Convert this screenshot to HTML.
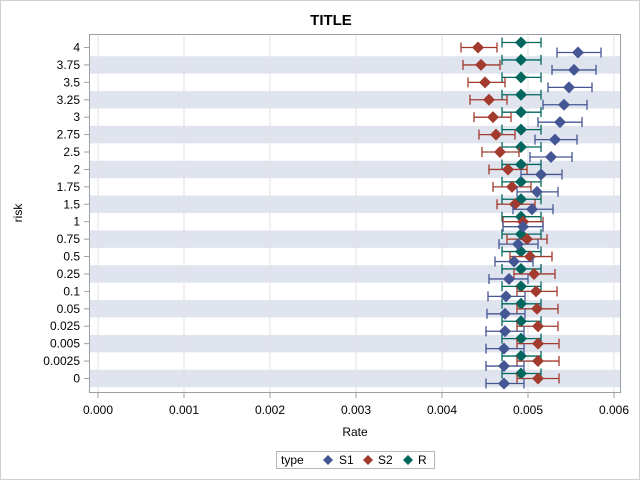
<!DOCTYPE html>
<html><head><style>body{margin:0;background:#fff}svg{display:block}text{font-family:"Liberation Sans",sans-serif}</style></head>
<body>
<svg width="640" height="480" viewBox="0 0 640 480" xmlns="http://www.w3.org/2000/svg">
<rect x="0.5" y="0.5" width="639" height="479" fill="#fff" stroke="#d0d0d0"/>
<text x="331" y="25" font-size="15" font-weight="bold" text-anchor="middle">TITLE</text>
<g id="bands" fill="#dfe4ee"></g>
<g id="grid" stroke="#e2e2e2"></g>
<rect x="89.5" y="34.5" width="531" height="358" fill="none" stroke="#9aa0a6"/>
<g id="ytk" stroke="#9aa0a6"></g>
<g id="ylab" font-size="12" text-anchor="end"></g>
<g id="xax" font-size="12" text-anchor="middle"></g>
<text x="22" y="213" font-size="12" text-anchor="middle" transform="rotate(-90 22 213)">risk</text>
<text x="355" y="436" font-size="12" text-anchor="middle">Rate</text>
<g id="data" stroke-width="1.3"></g>
<rect x="276.5" y="451.5" width="158" height="17" fill="#fff" stroke="#b8b8b8"/>
<text x="281" y="464" font-size="12">type</text>
<path d="M328,455 L333,460 L328,465 L323,460Z" fill="#445694"/><text x="339" y="464" font-size="12">S1</text>
<path d="M368,455 L373,460 L368,465 L363,460Z" fill="#a23a2e"/><text x="378" y="464" font-size="12">S2</text>
<path d="M408,455 L413,460 L408,465 L403,460Z" fill="#01665e"/><text x="418" y="464" font-size="12">R</text>
<script>
var NS="http://www.w3.org/2000/svg";
function el(p,t,a,txt){var e=document.createElementNS(NS,t);for(var k in a)e.setAttribute(k,a[k]);if(txt!=null)e.textContent=txt;document.getElementById(p).appendChild(e);return e;}
var labs=["4","3.75","3.5","3.25","3","2.75","2.5","2","1.75","1.5","1","0.75","0.5","0.25","0.1","0.05","0.025","0.005","0.0025","0"];
var S2=[[478,461,497],[481,463,500],[485,468,505],[489,470,507],[493,474,511],[496,479,515],[500,482,519],[508,489,527],[512,493,531],[515,497,535],[523,503,543],[527,507,547],[530,510,552],[534,514,555],[536,517,557],[537,517,558],[538,517,558],[538,517,559],[538,517,559],[538,517,559]];
var S1=[[578,557,601],[574,552,596],[569,548,592],[564,543,587],[560,538,582],[555,535,577],[551,530,572],[541,521,562],[537,517,558],[532,513,553],[523,503,543],[518,499,538],[514,495,533],[509,489,528],[506,488,525],[505,487,525],[505,486,524],[504,486,524],[504,486,524],[504,486,524]];
var sp=17.42;
for(var i=0;i<20;i++){var y=47.5+i*sp;
 if(i%2==1)el("bands","rect",{x:90,y:y-sp/2,width:530,height:sp});
 el("ytk","line",{x1:84,x2:89,y1:y,y2:y});
 el("ylab","text",{x:80,y:y+4},labs[i]);
}
for(var j=0;j<=6;j++){var x=98+j*86;
 el("grid","line",{x1:x,x2:x,y1:35,y2:392});
 el("xax","line",{x1:x,x2:x,y1:392,y2:398,stroke:"#9aa0a6"});
 el("xax","text",{x:x,y:414},"0.00"+j);
}
function ser(v,dy,c){for(var i=0;i<20;i++){var y=47.5+i*sp+dy,a=v[i];
 el("data","path",{d:"M"+a[1]+","+y+"H"+a[2]+"M"+a[1]+","+(y-5)+"v10M"+a[2]+","+(y-5)+"v10",stroke:c,fill:"none"});
 el("data","path",{d:"M"+a[0]+","+(y-6)+"l6,6l-6,6l-6,-6z",fill:c,stroke:"none"});}}
var R=[];for(var i=0;i<20;i++)R.push([521,502,541]);
ser(R,-5,"#01665e");ser(S2,0,"#a23a2e");ser(S1,5,"#445694");
</script>
</svg>
</body></html>
